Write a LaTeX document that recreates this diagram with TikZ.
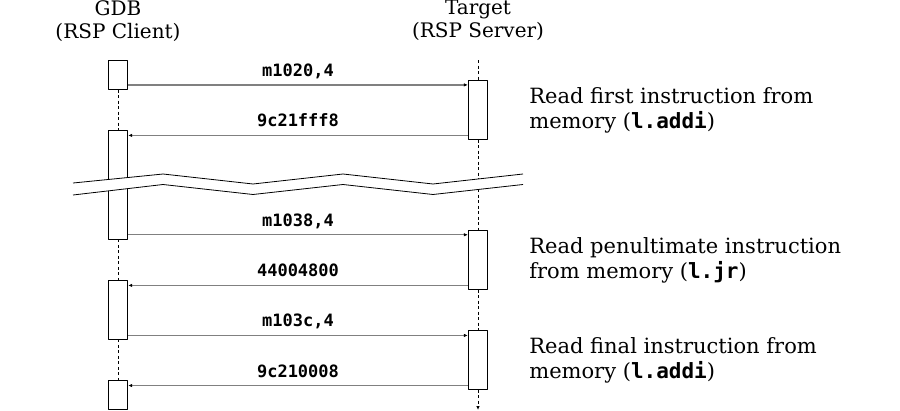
\documentclass[tikz,border=0pt]{standalone}
\usepackage{fontspec}
\setmainfont{DejaVu Serif}
\setmonofont{DejaVu Sans Mono}
\usetikzlibrary{arrows.meta,positioning}
\begin{document}
\begin{tikzpicture}[x=1pt, y=-1pt, line join=round, >={Latex[length=4pt,width=3.5pt,black]}]
    \tikzset{every node/.style={font=\fontsize{20}{23}\selectfont},
        act/.style={draw, fill=white, line width=0.8pt, minimum width=19.5pt, inner sep=0pt},
        life/.style={dash pattern=on 3pt off 2.5pt, line width=0.9pt},
        msg/.style={->, draw=gray, line width=1.2pt},
        lbl/.style={midway, above=8.5pt, anchor=base, inner sep=0pt, font=\fontsize{17}{19}\selectfont\ttfamily\bfseries},
        note/.style={right=41pt of #1, align=left, inner sep=0pt, font=\fontsize{21}{25}\selectfont}}
    \def\xc{118}\def\xs{478}
    \useasboundingbox (0,0) rectangle (900,410);
    \node[align=center, anchor=north, inner sep=0pt] (gdb) at (\xc,0) {GDB\\(RSP Client)};
    \node[align=center, anchor=north, inner sep=0pt] (tgt) at (\xs,0) {Target\\(RSP Server)};
    \coordinate (stop) at (\xs,60);
    \coordinate (send) at (\xs,410);
    % activations
    \node[act, minimum height=28.6pt] (c1) at (\xc,75) {};
    \node[act, minimum height=108.3pt] (c2) at (\xc,184.9) {};
    \node[act, minimum height=58.3pt] (c3) at (\xc,309.9) {};
    \node[act, minimum height=28.6pt] (c4) at (\xc,395) {};
    \node[act, minimum height=58.6pt] (s1) at (\xs,110) {};
    \node[act, minimum height=58.6pt] (s2) at (\xs,260) {};
    \node[act, minimum height=58.3pt] (s3) at (\xs,360) {};
    % lifelines
    \draw[life] (c1.south)--(c2.north) (c2.south)--(c3.north) (c3.south)--(c4.north);
    \draw[life] (stop)--(s1.north) (s1.south)--(s2.north) (s2.south)--(s3.north);
    \draw[life,->] (s3.south)--(send);
    % messages
    \draw[msg] ([yshift=4.8pt]c1.south east) -- ([yshift=4.8pt]c1.south east -| s1.west) node[lbl]{m1020,4};
    \draw[msg] ([yshift=4.3pt]s1.south west) -- ([yshift=4.3pt]s1.south west -| c2.east) node[lbl]{9c21fff8};
    \draw[msg] ([yshift=4.7pt]c2.south east) -- ([yshift=4.7pt]c2.south east -| s2.west) node[lbl]{m1038,4};
    \draw[msg] ([yshift=4.3pt]s2.south west) -- ([yshift=4.3pt]s2.south west -| c3.east) node[lbl]{44004800};
    \draw[msg] ([yshift=4pt]c3.south east) -- ([yshift=4pt]c3.south east -| s3.west) node[lbl]{m103c,4};
    \draw[msg] ([yshift=4pt]s3.south west) -- ([yshift=4pt]s3.south west -| c4.east) node[lbl]{9c210008};
    % notes
    \node[note=s1] (n1) {Read first instruction from\\memory (\texttt{\bfseries l.addi})};
    \node[note=s2] (n2) {Read penultimate instruction\\from memory (\texttt{\bfseries l.jr})};
    \node[note=s3] (n3) {Read final instruction from\\memory (\texttt{\bfseries l.addi})};
    % break
    \fill[white] (73,183)--(163,174)--(253,184)--(343,174)--(433,184)--(523,174)
        --(523,184.5)--(433,194.5)--(343,184.5)--(253,194.5)--(163,184.5)--(73,195)--cycle;
    \draw[line width=0.8pt] (73,183)--(163,174)--(253,184)--(343,174)--(433,184)--(523,174);
    \draw[line width=0.8pt] (73,195)--(163,184.5)--(253,194.5)--(343,184.5)--(433,194.5)--(523,184.5);
\end{tikzpicture}
\end{document}
